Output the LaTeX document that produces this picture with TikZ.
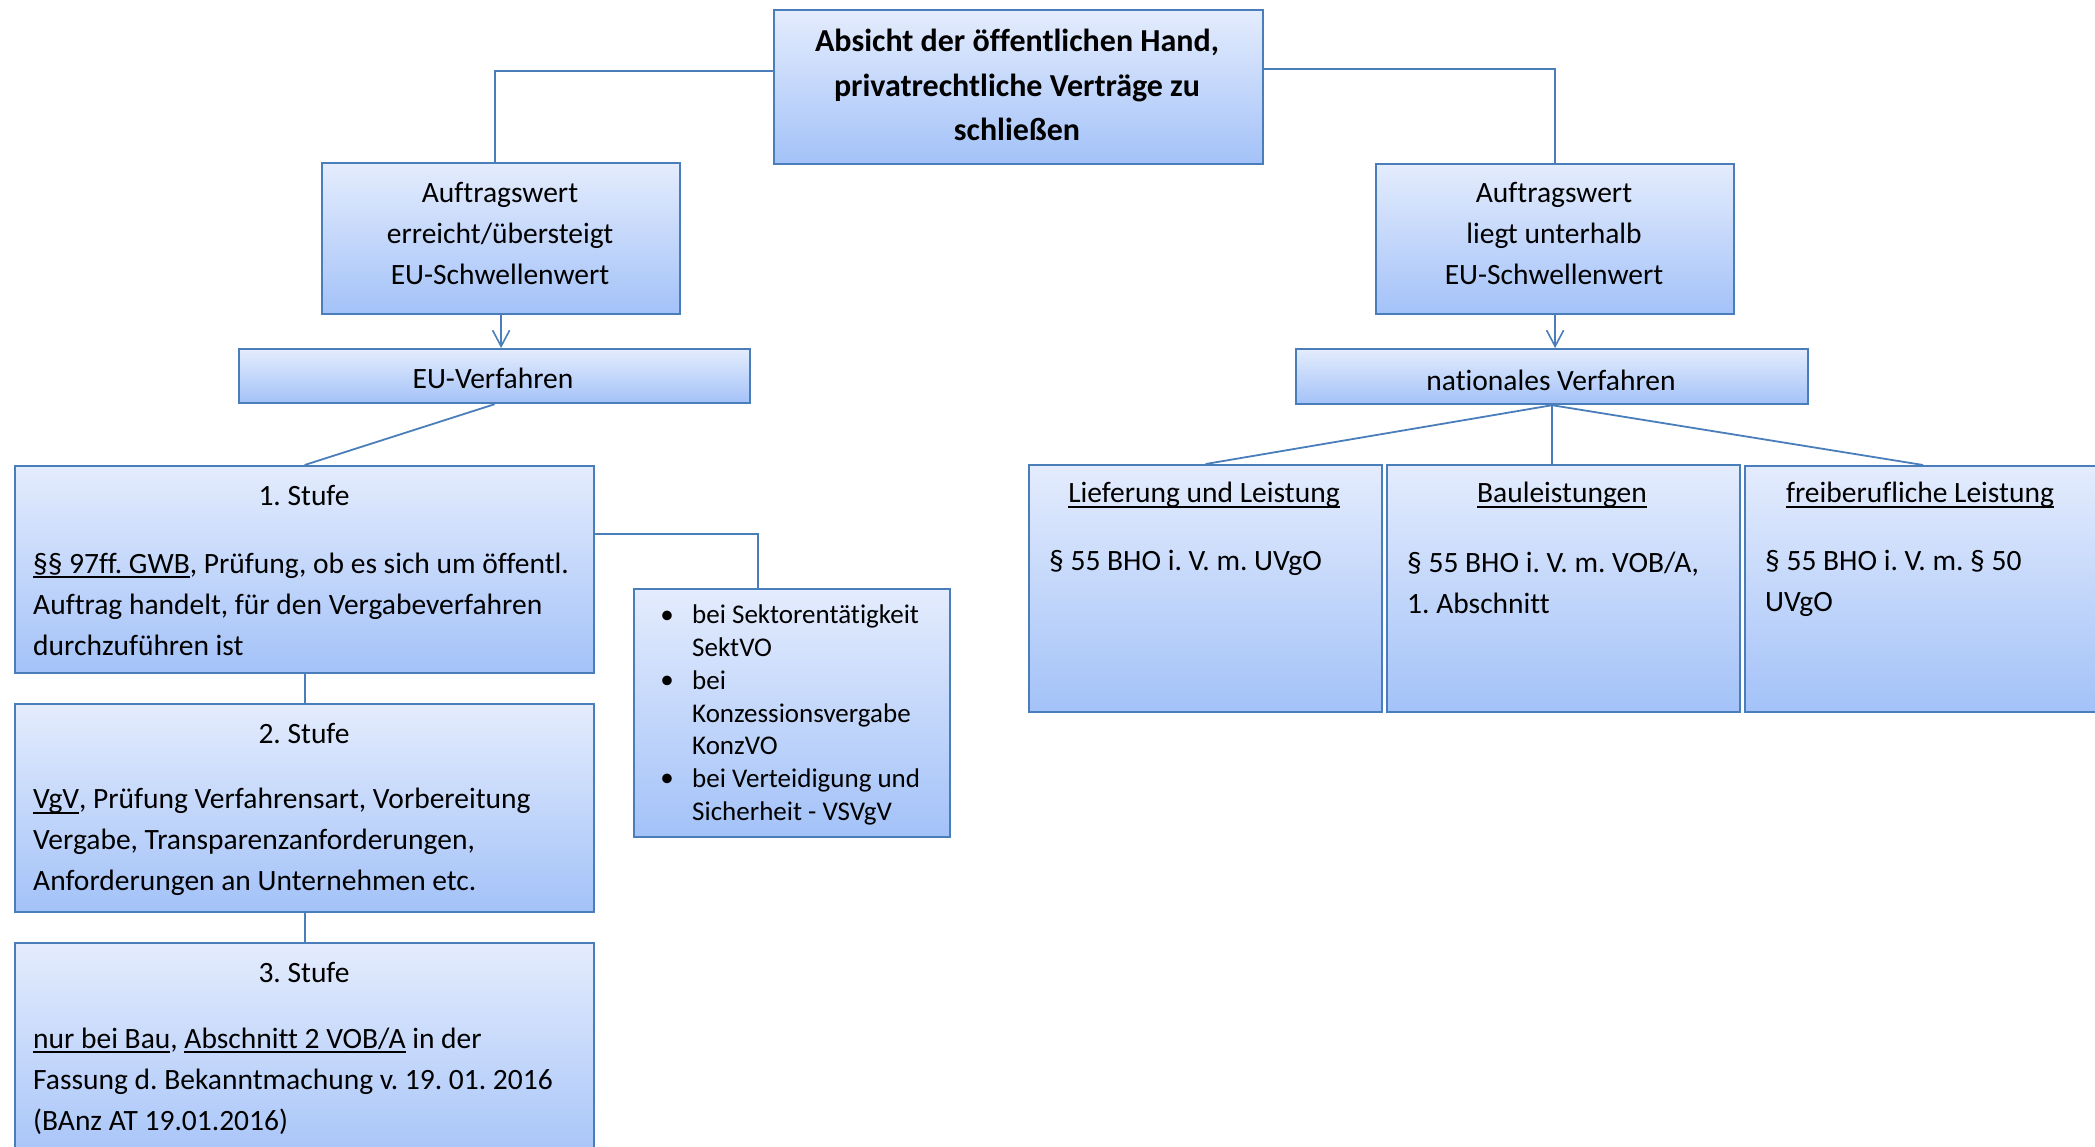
\documentclass[tikz,border=0pt]{standalone}
\usepackage{fontspec}
\setmainfont{Carlito}[Ligatures=NoCommon]
\usetikzlibrary{arrows.meta}
\definecolor{bordc}{HTML}{4A7EBB}
\definecolor{topc}{HTML}{E4ECFD}
\definecolor{botc}{HTML}{A3C2F8}
\newcommand\myul[1]{\setbox0\hbox{#1}\rlap{\rule[-5pt]{\wd0}{1.8pt}}\box0\relax}
\frenchspacing
\begin{document}
\begin{tikzpicture}[x=1pt,y=-1pt,
  box/.style={draw=bordc,line width=2.2pt,top color=topc,bottom color=botc,rectangle,inner sep=0pt,anchor=north west},
  conn/.style={draw=bordc,line width=1.8pt},
  arr/.style={conn,-{Straight Barb[length=16pt,width=17pt,line width=1.6pt]}},
  txt/.style={font=\fontsize{29.5}{41}\selectfont\frenchspacing,inner sep=0pt,text=black},
  btxt/.style={font=\fontsize{32}{44.5}\selectfont\bfseries,inner sep=0pt,text=black},
  ltxt/.style={font=\fontsize{27}{32.7}\selectfont,inner sep=0pt,text=black}
]
\clip (0,0) rectangle (2095,1146);
% boxes
\node[box,minimum width=489pt,minimum height=154pt] (top) at (773,9) {};
\node[box,minimum width=358pt,minimum height=151pt] (aufL) at (321,162) {};
\node[box,minimum width=358pt,minimum height=150pt] (aufR) at (1375,163) {};
\node[box,minimum width=511pt,minimum height=54pt] (euv) at (238,348) {};
\node[box,minimum width=512pt,minimum height=55pt] (nat) at (1295,348) {};
\node[box,minimum width=579pt,minimum height=207pt] (s1) at (14,465) {};
\node[box,minimum width=579pt,minimum height=208pt] (s2) at (14,703) {};
\node[box,minimum width=579pt,minimum height=230pt] (s3) at (14,942) {};
\node[box,minimum width=316pt,minimum height=248pt] (bul) at (633,588) {};
\node[box,minimum width=353pt,minimum height=247pt] (b1) at (1028,464) {};
\node[box,minimum width=353pt,minimum height=247pt] (b2) at (1386,464) {};
\node[box,minimum width=356pt,minimum height=246pt] (b3) at (1744,465) {};
% connectors
\draw[conn] ([yshift=16pt]top.west) -| ([xshift=-6pt]aufL.north);
\draw[conn] ([yshift=18pt]top.east) -| (aufR.north);
\draw[arr] (aufL.south) -- (aufL.south |- euv.north);
\draw[arr] (aufR.south) -- (aufR.south |- nat.north);
\draw[conn] (euv.south) -- (s1.north);
\draw[conn] ([yshift=36pt]s1.east) -| ([xshift=-34pt]bul.north);
\draw[conn] (s1.south) -- (s2.north);
\draw[conn] (s2.south) -- (s3.north);
\draw[conn] (nat.south) -- (b1.north);
\draw[conn] (nat.south) -- (nat.south |- b2.north);
\draw[conn] (nat.south) -- (b3.north);
% texts
\node[btxt,align=center] (ttop) at (1017,85) {Absicht der öffentlichen Hand,\\privatrechtliche Verträge zu\\schließen};
\node[txt,align=center] (taufL) at (500,233) {Auftragswert\\erreicht/übersteigt\\EU-Schwellenwert};
\node[txt,align=center] (taufR) at (1554,233) {Auftragswert\\liegt unterhalb\\EU-Schwellenwert};
\node[txt] (teuv) at (493,378) {EU-Verfahren};
\node[txt] (tnat) at (1551,380) {nationales Verfahren};
\node[txt] (ts1h) at (304,495) {1. Stufe};
\node[txt,align=left,anchor=west] (ts1b) at (33,604) {\myul{§§ 97ff. GWB}, Prüfung, ob es sich um öffentl.\\Auftrag handelt, für den Vergabeverfahren\\durchzuführen ist};
\node[txt] (ts2h) at (304,733) {2. Stufe};
\node[txt,align=left,anchor=west] (ts2b) at (33,842) {\myul{VgV}, Prüfung Verfahrensart, Vorbereitung\\Vergabe, Transparenzanforderungen,\\Anforderungen an Unternehmen etc.};
\node[txt] (ts3h) at (304,972) {3. Stufe};
\node[txt,align=left,anchor=west] (ts3b) at (33,1081) {\myul{nur bei Bau}, \myul{Abschnitt 2 VOB/A} in der\\Fassung d. Bekanntmachung v. 19. 01. 2016\\(BAnz AT 19.01.2016)};
\node[ltxt,align=left,anchor=west] (tbul) at (692,715) {bei Sektorentätigkeit\\SektVO\\bei\\Konzessionsvergabe\\KonzVO\\bei Verteidigung und\\Sicherheit - VSVgV};
\node[ltxt] (bu1) at (667,617) {•};
\node[ltxt] (bu2) at (667,682) {•};
\node[ltxt] (bu3) at (667,780) {•};
\node[txt] (tb1h) at (1204,495) {\myul{Lieferung und Leistung}};
\node[txt] (tb2h) at (1562,495) {\myul{Bauleistungen}};
\node[txt] (tb3h) at (1920,495) {\myul{freiberufliche Leistung}};
\node[txt,anchor=west] (tb1b) at (1049,563) {§ 55 BHO i. V. m. UVgO};
\node[txt,align=left,anchor=west] (tb2b) at (1407,583) {§ 55 BHO i. V. m. VOB/A,\\1. Abschnitt};
\node[txt,align=left,anchor=west] (tb3b) at (1765,583) {§ 55 BHO i. V. m. § 50\\UVgO};
\end{tikzpicture}
\end{document}
